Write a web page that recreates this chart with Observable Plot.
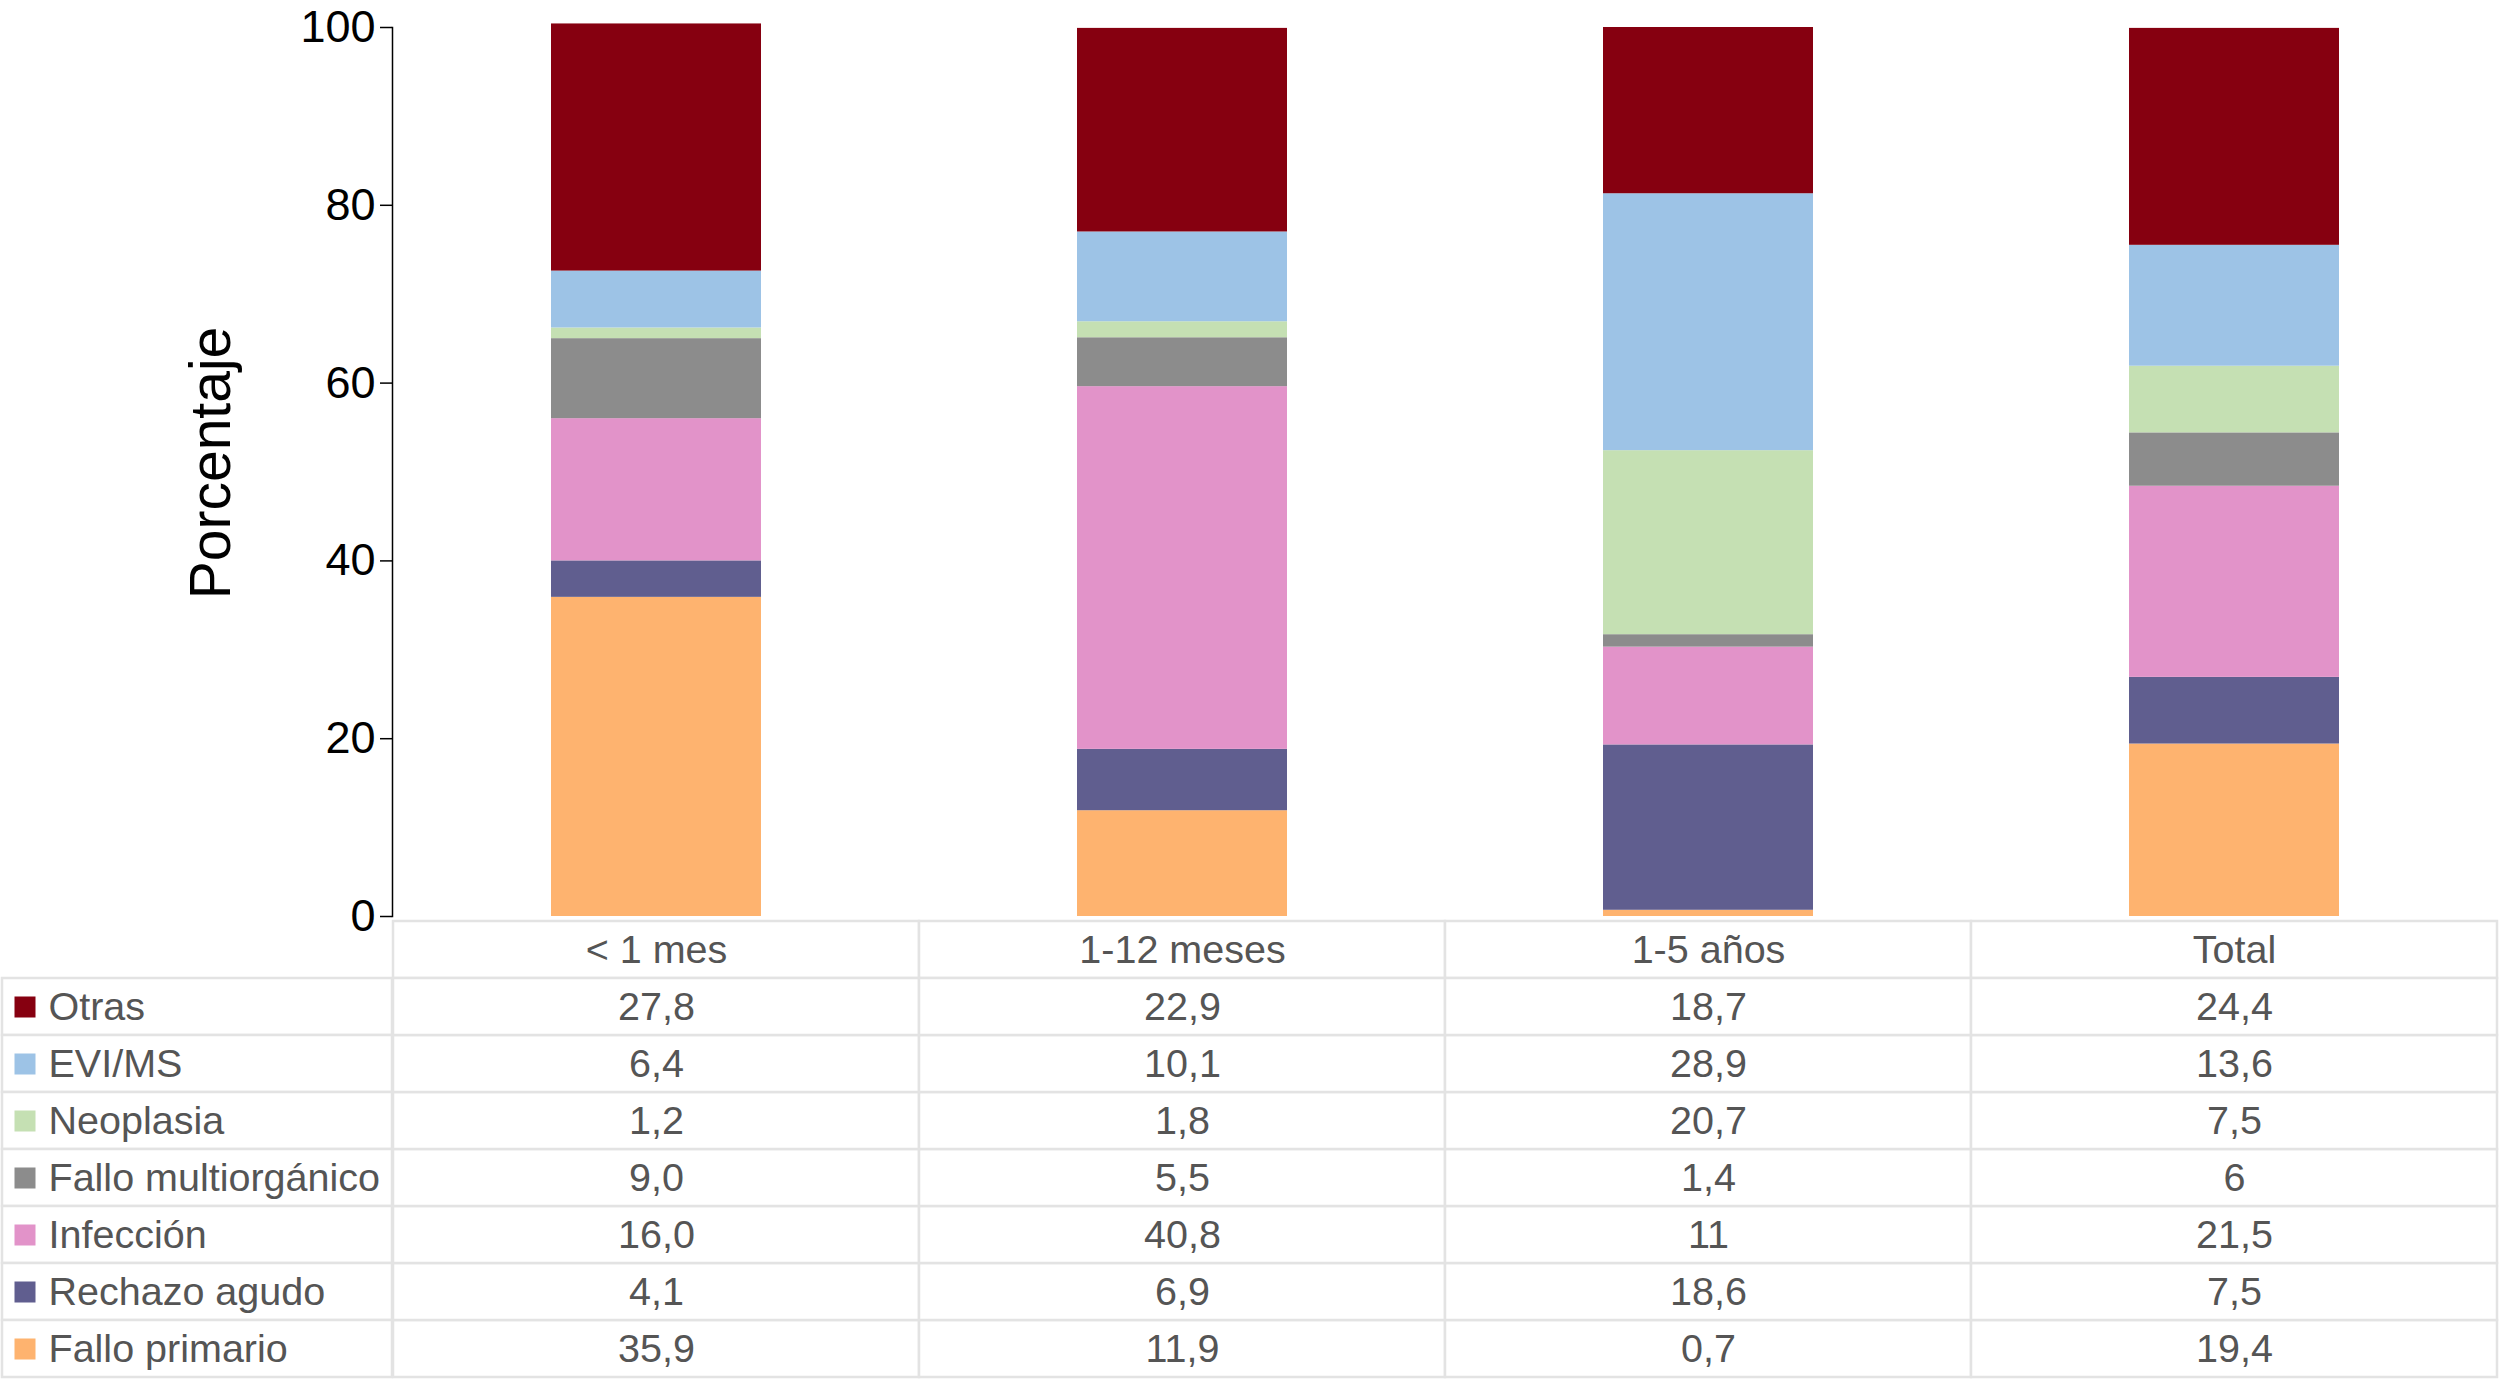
<!DOCTYPE html>
<html>
<head>
<meta charset="utf-8">
<script src="https://cdn.jsdelivr.net/npm/d3@7"></script>
<script src="https://cdn.jsdelivr.net/npm/@observablehq/plot@0.6"></script>
<style>
  html, body { margin: 0; padding: 0; background: #fff; }
  #chart { width: 2501px; font-family: "Liberation Sans", Arial, Helvetica, sans-serif; }
  #chart svg { display: block; overflow: visible; }
  #table { display: flex; flex-direction: row; }
</style>
</head>
<body>
<div id="chart">
  <div id="bars"></div>
  <div id="table"></div>
</div>
<script>
// ---- data ----
const categories = ["< 1 mes", "1-12 meses", "1-5 años", "Total"];
// stacking order: bottom to top
const series = ["Fallo primario", "Rechazo agudo", "Infección", "Fallo multiorgánico", "Neoplasia", "EVI/MS", "Otras"];
const colors = ["#feb36f", "#605e8f", "#e293c9", "#8c8c8c", "#c5e0b3", "#9dc3e6", "#860010"];
// values per category, as printed in the table
const falloPrimario = ["35,9", "11,9", "0,7", "19,4"];
const rechazoAgudo = ["4,1", "6,9", "18,6", "7,5"];
const infeccion = ["16,0", "40,8", "11", "21,5"];
const falloMultiorganico = ["9,0", "5,5", "1,4", "6"];
const neoplasia = ["1,2", "1,8", "20,7", "7,5"];
const eviMs = ["6,4", "10,1", "28,9", "13,6"];
const otras = ["27,8", "22,9", "18,7", "24,4"];
const yTicks = [0, 20, 40, 60, 80, 100];
const yLabel = "Porcentaje";

const valueLists = [falloPrimario, rechazoAgudo, infeccion, falloMultiorganico, neoplasia, eviMs, otras];
const rows = [];
series.forEach((s, i) => {
  categories.forEach((c, j) => {
    const label = valueLists[i][j];
    rows.push({series: s, cat: c, label, value: +label.replace(",", ".")});
  });
});

const FONT = '"Liberation Sans", Arial, Helvetica, sans-serif';
const W = 2501, ML = 392, MR = 3;
const tableOrder = series.slice().reverse();   // top to bottom in the table
const yRows = ["__header__", ...tableOrder];
const TH = 467;
const colorScale = {domain: series, range: colors};

// ---- bar chart ----
const bars = Plot.plot({
  width: W,
  height: 916,
  marginLeft: ML,
  marginRight: MR,
  marginTop: 27,
  marginBottom: 0,
  style: {fontFamily: FONT, color: "black", background: "transparent", overflow: "visible"},
  x: {domain: categories, paddingInner: 0.6, paddingOuter: 0.3, axis: null},
  y: {domain: [0, 100], axis: null},
  color: colorScale,
  marks: [
    Plot.barY(rows, {x: "cat", y: "value", fill: "series", order: null}),
    Plot.axisY(yTicks, {tickSize: 12, tickPadding: 5, fontSize: 45, label: null, strokeWidth: 1.5}),
    Plot.frame({anchor: "left", strokeWidth: 1.5}),
    Plot.text([yLabel], {text: d => d, frameAnchor: "left", textAnchor: "middle", lineAnchor: "middle", rotate: -90, dx: -181, dy: -9, fontSize: 57, fill: "black"})
  ]
});
document.getElementById("bars").appendChild(bars);

// ---- table: label column ----
const labelCol = Plot.plot({
  width: ML,
  height: TH,
  marginLeft: 2,
  marginRight: 0,
  marginTop: 2,
  marginBottom: 3,
  style: {fontFamily: FONT, background: "transparent"},
  x: {domain: ["causa"], padding: 0, axis: null},
  y: {domain: yRows, padding: 0, axis: null},
  color: colorScale,
  marks: [
    Plot.cell(tableOrder, {x: () => "causa", y: d => d, fill: "white", stroke: "#e3e3e3", strokeWidth: 2.5}),
    Plot.dot(tableOrder, {y: d => d, frameAnchor: "left", dx: 22.5, symbol: "square", r: 11.85, fill: d => d}),
    Plot.text(tableOrder, {y: d => d, text: d => d, frameAnchor: "left", textAnchor: "start", dx: 46, fontSize: 39.5, fill: "#555"})
  ]
});

// ---- table: values ----
const headerCells = categories.map(c => ({series: "__header__", cat: c, label: c}));
const cells = [...headerCells, ...rows];
const valueTable = Plot.plot({
  width: W - ML,
  height: TH,
  marginLeft: 0,
  marginRight: MR,
  marginTop: 2,
  marginBottom: 3,
  style: {fontFamily: FONT, background: "transparent"},
  x: {domain: categories, padding: 0, axis: null},
  y: {domain: yRows, padding: 0, axis: null},
  marks: [
    Plot.cell(cells, {x: "cat", y: "series", fill: "white", stroke: "#e3e3e3", strokeWidth: 2.5}),
    Plot.text(cells, {x: "cat", y: "series", text: "label", fontSize: 39.5, fill: "#555"})
  ]
});
const t = document.getElementById("table");
t.appendChild(labelCol);
t.appendChild(valueTable);
</script>
</body>
</html>
